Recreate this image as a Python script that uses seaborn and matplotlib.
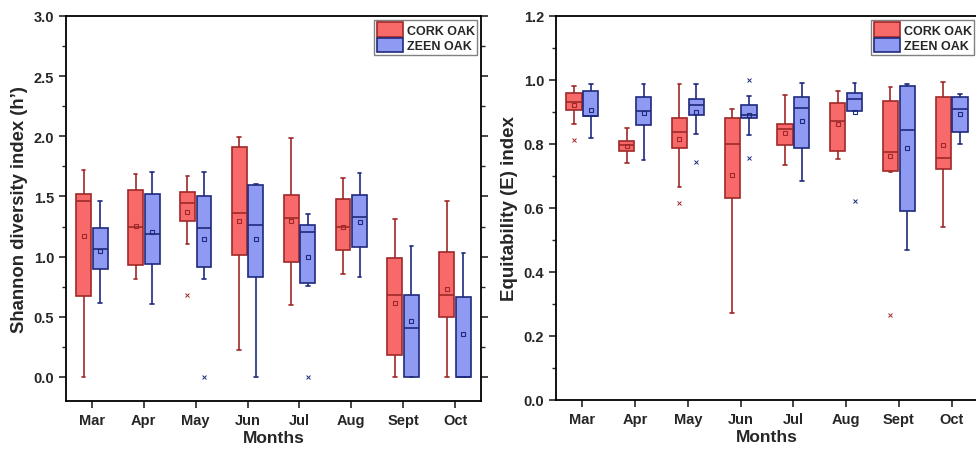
import numpy as np
import pandas as pd
import matplotlib
matplotlib.use("Agg")
import matplotlib.pyplot as plt
from matplotlib.ticker import MultipleLocator
from matplotlib.patches import Patch
import seaborn as sns

sns.set_style("ticks")
plt.rcParams["font.family"] = ["Liberation Sans", "DejaVu Sans"]
plt.rcParams["font.weight"] = "bold"

months = ["Mar", "Apr", "May", "Jun", "Jul", "Aug", "Sept", "Oct"]
species = ["CORK OAK", "ZEEN OAK"]

# box stats: [whisker low, Q1, median, Q3, whisker high]
shannon_cork = [
    [0.00, 0.675, 1.46, 1.52, 1.72],
    [0.817, 0.93, 1.247, 1.556, 1.686],
    [1.103, 1.30, 1.442, 1.536, 1.672],
    [0.222, 1.014, 1.364, 1.911, 1.997],
    [0.594, 0.958, 1.325, 1.511, 1.989],
    [0.856, 1.056, 1.247, 1.481, 1.653],
    [0.00, 0.183, 0.678, 0.986, 1.311],
    [0.00, 0.50, 0.678, 1.042, 1.464],
]
shannon_zeen = [
    [0.617, 0.90, 1.067, 1.236, 1.46],
    [0.603, 0.936, 1.19, 1.517, 1.706],
    [0.817, 0.917, 1.239, 1.503, 1.706],
    [0.00, 0.833, 1.264, 1.597, 1.60],
    [0.756, 0.781, 1.206, 1.264, 1.353],
    [0.828, 1.078, 1.333, 1.514, 1.694],
    [0.00, 0.00, 0.408, 0.683, 1.089],
    [0.00, 0.00, 0.00, 0.661, 1.031],
]
shannon_cork_mean = [1.17, 1.256, 1.375, 1.294, 1.294, 1.244, 0.614, 0.728]
shannon_zeen_mean = [1.047, 1.208, 1.15, 1.147, 1.00, 1.286, 0.469, 0.353]
shannon_cork_out = [[], [], [0.683], [], [], [], [], []]
shannon_zeen_out = [[], [], [0.0], [], [0.0], [], [], []]

equit_cork = [
    [0.862, 0.906, 0.932, 0.958, 0.981],
    [0.74, 0.779, 0.797, 0.808, 0.851],
    [0.665, 0.786, 0.837, 0.881, 0.987],
    [0.271, 0.63, 0.799, 0.881, 0.91],
    [0.733, 0.798, 0.847, 0.864, 0.954],
    [0.754, 0.778, 0.873, 0.927, 0.967],
    [0.711, 0.715, 0.775, 0.933, 0.978],
    [0.542, 0.721, 0.756, 0.947, 0.993],
]
equit_zeen = [
    [0.818, 0.889, 0.889, 0.965, 0.987],
    [0.75, 0.858, 0.904, 0.948, 0.987],
    [0.832, 0.89, 0.921, 0.941, 0.989],
    [0.828, 0.882, 0.892, 0.923, 0.95],
    [0.683, 0.788, 0.911, 0.948, 0.99],
    [0.904, 0.904, 0.941, 0.96, 0.991],
    [0.468, 0.591, 0.844, 0.981, 0.987],
    [0.799, 0.839, 0.91, 0.946, 0.955],
]
equit_cork_mean = [0.923, 0.793, 0.817, 0.704, 0.834, 0.864, 0.762, 0.798]
equit_zeen_mean = [0.907, 0.896, 0.901, 0.89, 0.872, 0.899, 0.787, 0.893]
equit_cork_out = [[0.813], [], [0.615], [], [], [], [0.266], []]
equit_zeen_out = [[], [], [0.743], [1.0, 0.755], [], [0.621], [], []]

fills = {"CORK OAK": "#f86a6a", "ZEEN OAK": "#8f9af2"}
edges = {"CORK OAK": "#a02828", "ZEEN OAK": "#1f2a7c"}
offset = 0.16


def to_long(cork, zeen):
    rows = []
    for m, vals in zip(months, cork):
        rows += [(m, "CORK OAK", v) for v in vals]
    for m, vals in zip(months, zeen):
        rows += [(m, "ZEEN OAK", v) for v in vals]
    return pd.DataFrame(rows, columns=["month", "species", "value"])


def draw(ax, cork, zeen, cmean, zmean, cout, zout):
    df = to_long(cork, zeen)
    sns.boxplot(data=df, x="month", y="value", hue="species", order=months,
                hue_order=species, palette=fills, saturation=1, whis=(0, 100),
                width=0.64, gap=0.1, linewidth=1.2, legend=False, ax=ax,
                showfliers=False, capwidths=0.07)
    # colour the edges per species
    for i, patch in enumerate(ax.patches):
        sp = species[0] if i < len(months) else species[1]
        patch.set_edgecolor(edges[sp])
    lines = ax.lines
    per_box = len(lines) // (2 * len(months))
    for j, ln in enumerate(lines):
        sp = species[0] if j < per_box * len(months) else species[1]
        ln.set_color(edges[sp])
    x = np.arange(len(months))
    for sp, means, outs, sign in [("CORK OAK", cmean, cout, -1), ("ZEEN OAK", zmean, zout, 1)]:
        ax.plot(x + sign * offset, means, ls="none", marker="s", ms=3.5,
                mfc="none", mec=edges[sp], mew=0.8)
        for k, o in enumerate(outs):
            if o:
                ax.plot([k + sign * offset] * len(o), o, ls="none", marker="x",
                        ms=3.5, mec=edges[sp], mew=0.7)
    ax.set_xlim(-0.5, 7.5)
    ax.set_xlabel("Months", fontsize=12.5, fontweight="bold", labelpad=2)
    for s in ax.spines.values():
        s.set_linewidth(1.3)
        s.set_color("black")
    ax.tick_params(axis="both", labelsize=10.5, width=1.2, length=5, direction="out")
    ax.tick_params(axis="y", which="minor", length=3, width=1.0)
    ax.tick_params(axis="y", which="both", right=True)
    for lab in ax.get_xticklabels() + ax.get_yticklabels():
        lab.set_fontweight("bold")
    handles = [Patch(facecolor=fills[s], edgecolor=edges[s], linewidth=1.2, label=s)
               for s in species]
    ax.legend(handles=handles, loc="upper right", fancybox=False,
              framealpha=1, edgecolor="gray", borderaxespad=0.3,
              handlelength=2.1, handleheight=1.4, handletextpad=0.3,
              labelspacing=0.1, borderpad=0.2,
              prop={"weight": "bold", "size": 9})


fig = plt.figure(figsize=(9.76, 4.52), dpi=100)
ax1 = fig.add_axes([66 / 976, 50 / 452, 415 / 976, 385 / 452])
ax2 = fig.add_axes([556 / 976, 51 / 452, 422 / 976, 384 / 452])

draw(ax1, shannon_cork, shannon_zeen, shannon_cork_mean, shannon_zeen_mean,
     shannon_cork_out, shannon_zeen_out)
ax1.set_ylim(-0.2, 3.0)
ax1.yaxis.set_major_locator(MultipleLocator(0.5))
ax1.yaxis.set_minor_locator(MultipleLocator(0.25))
ax1.set_ylabel("Shannon diversity index (h\u2019)", fontsize=13.3, fontweight="bold")

draw(ax2, equit_cork, equit_zeen, equit_cork_mean, equit_zeen_mean,
     equit_cork_out, equit_zeen_out)
ax2.set_ylim(0, 1.2)
ax2.yaxis.set_major_locator(MultipleLocator(0.2))
ax2.yaxis.set_minor_locator(MultipleLocator(0.1))
ax2.set_ylabel("Equitability (E) index", fontsize=13.5, fontweight="bold")

fig.savefig("out.png", dpi=100)
